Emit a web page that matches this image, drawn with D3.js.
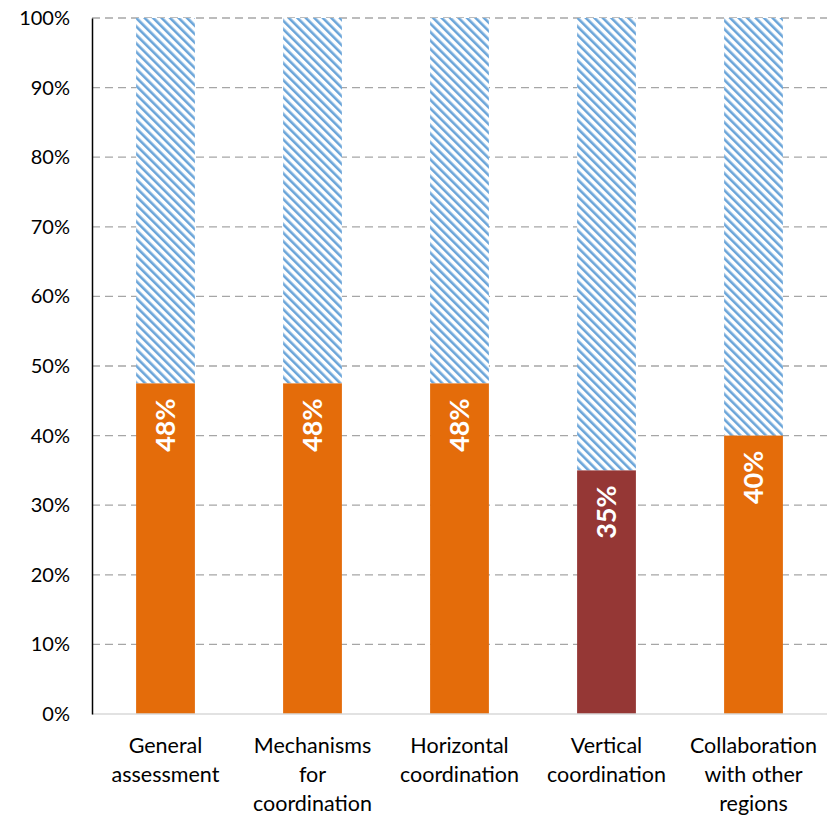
<!DOCTYPE html>
<html>
<head>
<meta charset="utf-8">
<script src="https://cdn.jsdelivr.net/npm/d3@7"></script>
<style>
  body { margin: 0; background: #fff; }
  text { font-family: Lato, "Open Sans", sans-serif; }
</style>
</head>
<body>
<svg id="chart" width="836" height="817"></svg>
<script>
const categories = [
	["General", "assessment"],
	["Mechanisms", "for", "coordination"],
	["Horizontal", "coordination"],
	["Vertical", "coordination"],
	["Collaboration", "with other", "regions"],
];
const values = [0.475, 0.475, 0.475, 0.35, 0.40];
const labels = ["48%", "48%", "48%", "35%", "40%"];
const barColors = ["#E46C0A", "#E46C0A", "#E46C0A", "#953735", "#E46C0A"];
const yTicks = [0, 0.1, 0.2, 0.3, 0.4, 0.5, 0.6, 0.7, 0.8, 0.9, 1.0];

const svg = d3.select("#chart");
const margin = { left: 92, right: 9, top: 18, bottom: 103 };
const width = 836 - margin.left - margin.right;
const height = 817 - margin.top - margin.bottom;

// hatch pattern for the remaining share
const defs = svg.append("defs");
const pat = defs
	.append("pattern")
	.attr("id", "hatch")
	.attr("patternUnits", "userSpaceOnUse")
	.attr("width", 6)
	.attr("height", 6)
	.attr("patternTransform", "rotate(-45)");
pat.append("rect").attr("width", 6).attr("height", 6).attr("fill", "#fff");
pat.append("rect").attr("width", 2.6).attr("height", 6).attr("fill", "#5B9BD5").attr("opacity", 0.9);

const g = svg.append("g").attr("transform", `translate(${margin.left},${margin.top})`);

const x = d3
	.scaleBand()
	.domain(d3.range(categories.length))
	.range([0, width])
	.paddingInner(0.6)
	.paddingOuter(0.3);

const y = d3.scaleLinear().domain([0, 1]).range([height, 0]);

// gridlines
g.selectAll(".grid")
	.data(yTicks.filter((t) => t > 0))
	.enter()
	.append("line")
	.attr("x1", 0)
	.attr("x2", width)
	.attr("y1", (d) => y(d))
	.attr("y2", (d) => y(d))
	.attr("stroke", "#a6a6a6")
	.attr("stroke-width", 1.3)
	.attr("stroke-dasharray", "8,5");

// hatched background (100%)
g.selectAll(".rest")
	.data(values)
	.enter()
	.append("rect")
	.attr("x", (d, i) => x(i))
	.attr("width", x.bandwidth())
	.attr("y", y(1))
	.attr("height", (d) => y(d) - y(1))
	.attr("fill", "url(#hatch)");

// value bars
g.selectAll(".bar")
	.data(values)
	.enter()
	.append("rect")
	.attr("x", (d, i) => x(i))
	.attr("width", x.bandwidth())
	.attr("y", (d) => y(d))
	.attr("height", (d) => height - y(d))
	.attr("fill", (d, i) => barColors[i]);

// rotated value labels
g.selectAll(".val")
	.data(values)
	.enter()
	.append("text")
	.attr("transform", (d, i) => `translate(${x(i) + x.bandwidth() / 2 + 9},${y(d) + 15}) rotate(-90)`)
	.attr("text-anchor", "end")
	.attr("fill", "#fff")
	.attr("font-weight", "bold")
	.attr("font-size", "27px")
	.text((d, i) => labels[i]);

// baseline
g.append("line")
	.attr("x1", 0)
	.attr("x2", width)
	.attr("y1", height)
	.attr("y2", height)
	.attr("stroke", "#d9d9d9")
	.attr("stroke-width", 1.5);

// y axis
const yAxis = g.append("g").call(
	d3.axisLeft(y).tickValues(yTicks).tickFormat(d3.format(".0%")).tickSize(0).tickPadding(22)
);
yAxis.select(".domain").attr("stroke", "#000").attr("stroke-width", 1.5);
yAxis.selectAll("text").attr("font-size", "20px").attr("fill", "#000").attr("font-family", "Lato, sans-serif");

// category labels
const cat = g
	.selectAll(".cat")
	.data(categories)
	.enter()
	.append("text")
	.attr("x", (d, i) => x(i) + x.bandwidth() / 2)
	.attr("y", height + 39)
	.attr("text-anchor", "middle")
	.attr("font-size", "21.5px")
	.attr("fill", "#000");
cat.selectAll("tspan")
	.data((d) => d)
	.enter()
	.append("tspan")
	.attr("x", function () {
		return d3.select(this.parentNode).attr("x");
	})
	.attr("dy", (d, i) => (i === 0 ? 0 : 29))
	.text((d) => d);
</script>
</body>
</html>
